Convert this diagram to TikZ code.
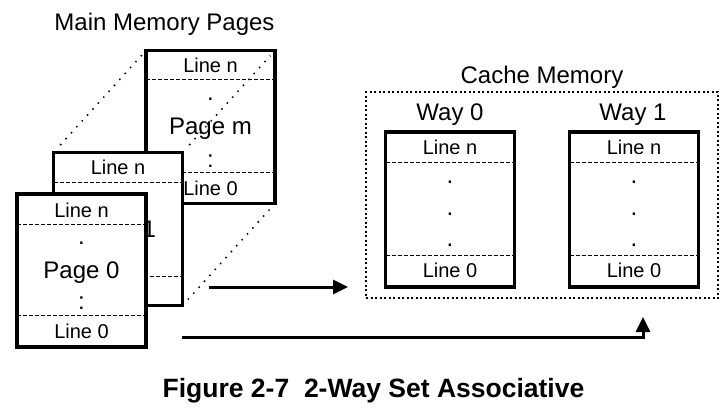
\documentclass[tikz,border=0pt]{standalone}
\usepackage{fontspec}
\setmainfont{Liberation Sans}
\usetikzlibrary{arrows.meta,calc,positioning}

\tikzset{
  page/.style={draw, fill=white, line width=3.5pt, minimum width=129pt, minimum height=153pt, inner sep=0pt, outer sep=0pt},
  sep/.style={line width=0.7pt, dash pattern=on 4pt off 2pt},
  linelbl/.style={font=\fontsize{20}{24}\selectfont, inner sep=0pt},
  biglbl/.style={font=\fontsize{24}{28}\selectfont, inner sep=0pt},
  dotln/.style={line width=1.5pt, dash pattern=on 1.5pt off 6.5pt},
  cachebox/.style={draw, line width=1.5pt, dash pattern=on 2pt off 2.5pt, minimum width=352pt, minimum height=206pt, inner sep=0pt, outer sep=0pt},
  arr/.style={line width=3pt, -{Triangle[length=15pt,width=14pt]}},
}

\begin{document}
\begin{tikzpicture}[x=1pt,y=-1pt]
    \useasboundingbox (0,0) rectangle (725,408);
    \node[biglbl, anchor=base] (title) at (164.5,30) {Main Memory Pages};
    % page m
    \node[page] (pm) at (210.5,127) {};
    \draw[sep] ($(pm.north west)+(0,29)$) -- ($(pm.north east)+(0,29)$);
    \draw[sep] ($(pm.south west)+(0,-31)$) -- ($(pm.south east)+(0,-31)$);
    \node[linelbl] (pmn) at ($(pm.north)+(0,15)$) {Line n};
    \node[linelbl] (pm0) at ($(pm.south)+(0,-15)$) {Line 0};
    \node[biglbl, anchor=base] (pmt) at ($(pm.center)+(0,7)$) {Page m};
    \node[biglbl] (pmd) at ($(pm.center)+(0,-28)$) {.};
    \node[biglbl] (pmc) at ($(pm.center)+(0,34)$) {:};
    % page 1
    \node[page] (p1) at (118,229) {};
    \draw[sep] ($(p1.north west)+(0,30)$) -- ($(p1.north east)+(0,30)$);
    \draw[sep] ($(p1.south west)+(0,-29)$) -- ($(p1.south east)+(0,-29)$);
    \node[linelbl] (p1n) at ($(p1.north)+(0,15)$) {Line n};
    \node[linelbl] (p10) at ($(p1.south)+(0,-15)$) {Line 0};
    \node[biglbl, anchor=base] (p1t) at ($(p1.center)+(0,8)$) {Page 1};
    % page 0
    \node[page] (p0) at (81.5,270.5) {};
    \draw[sep] ($(p0.north west)+(0,30.5)$) -- ($(p0.north east)+(0,30.5)$);
    \draw[sep] ($(p0.south west)+(0,-32)$) -- ($(p0.south east)+(0,-32)$);
    \node[linelbl] (p0n) at ($(p0.north)+(0,16)$) {Line n};
    \node[linelbl] (p00) at ($(p0.south)+(0,-15.5)$) {Line 0};
    \node[biglbl, anchor=base] (p0t) at ($(p0.center)+(0,7.5)$) {Page 0};
    \node[biglbl] (p0d) at ($(p0.center)+(0,-27.5)$) {.};
    \node[biglbl] (p0c) at ($(p0.center)+(0,33)$) {:};
    % stack edges
    \draw[dotln, shorten <=10pt, shorten >=4pt] (p1.north west) -- (pm.north west);
    \draw[dotln, shorten <=10pt, shorten >=7pt] (p1.north east) -- (pm.north east);
    \draw[dotln, shorten <=8pt, shorten >=7pt] (p1.south east) -- (pm.south east);
    % cache
    \node[cachebox] (cache) at (542,195) {};
    \node[biglbl, anchor=base] (ctitle) at (542,83) {Cache Memory};
    \node[biglbl, anchor=base] (way0) at (450,120) {Way 0};
    \node[biglbl, anchor=base] (way1) at (633,120) {Way 1};
    \node[page, minimum height=155pt] (w0) at (450,209.5) {};
    \draw[sep] ($(w0.north west)+(0,30)$) -- ($(w0.north east)+(0,30)$);
    \draw[sep] ($(w0.south west)+(0,-32)$) -- ($(w0.south east)+(0,-32)$);
    \node[linelbl] (w0n) at ($(w0.north)+(0,15.5)$) {Line n};
    \node[linelbl] (w00) at ($(w0.south)+(0,-16.5)$) {Line 0};
    \node[biglbl] (w0a) at ($(w0.north)+(0,50)$) {.};
    \node[biglbl] (w0b) at ($(w0.north)+(0,82)$) {.};
    \node[biglbl] (w0c) at ($(w0.north)+(0,113)$) {.};
    \node[page, minimum height=155pt] (w1) at (634,209.5) {};
    \draw[sep] ($(w1.north west)+(0,30)$) -- ($(w1.north east)+(0,30)$);
    \draw[sep] ($(w1.south west)+(0,-32)$) -- ($(w1.south east)+(0,-32)$);
    \node[linelbl] (w1n) at ($(w1.north)+(0,15.5)$) {Line n};
    \node[linelbl] (w10) at ($(w1.south)+(0,-16.5)$) {Line 0};
    \node[biglbl] (w1a) at ($(w1.north)+(0,50)$) {.};
    \node[biglbl] (w1b) at ($(w1.north)+(0,82)$) {.};
    \node[biglbl] (w1c) at ($(w1.north)+(0,113)$) {.};
    % arrows
    \coordinate (a1s) at (209,287);
    \coordinate (a1e) at (348,287);
    \coordinate (a2s) at (182,337);
    \coordinate (a2e) at (643,317);
    \draw[arr] (a1s) -- (a1e);
    \draw[arr] (a2s) -| (a2e);
    \node[font=\bfseries\fontsize{26.5}{30}\selectfont, anchor=base] (cap) at (373.5,397) {Figure 2-7~~2-Way Set Associative};
\end{tikzpicture}
\end{document}
